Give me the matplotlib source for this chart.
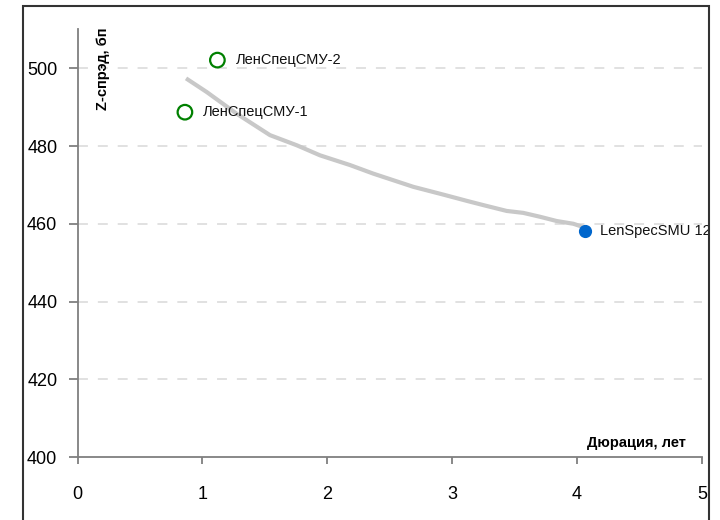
import matplotlib
matplotlib.use("Agg")
import matplotlib.pyplot as plt
from matplotlib.patches import Rectangle

plt.rcParams['font.family'] = ['Liberation Sans', 'DejaVu Sans']

# G-curve (Z-spread vs duration)
curve_dur = [0.869, 1.034, 1.275, 1.541, 1.755, 1.942, 2.182, 2.368, 2.689,
             2.929, 3.116, 3.249, 3.436, 3.569, 3.703, 3.837, 3.970, 4.063]
curve_z = [497.4, 493.9, 488.3, 482.8, 480.2, 477.6, 475.1, 472.9, 469.5,
           467.5, 465.9, 464.8, 463.3, 462.8, 461.8, 460.7, 460.0, 459.0]

# Old bonds (open green markers)
old_names = ["ЛенСпецСМУ-1", "ЛенСпецСМУ-2"]
old_dur = [0.86, 1.12]
old_z = [488.7, 502.1]

# New bond (filled blue)
new_names = ["LenSpecSMU 12"]
new_dur = [4.06]
new_z = [458.1]

xticks = [0, 1, 2, 3, 4, 5]
yticks = [400, 420, 440, 460, 480, 500]

fig = plt.figure(figsize=(7.2, 5.2), dpi=100)
ax = fig.add_axes([77.5/720, 1-457/520, (702-77.5)/720, (457-29.4)/520])

ax.set_xlim(0, 5)
ax.set_ylim(400, 510)

for y in yticks[1:]:
    ax.axhline(y, color='#d9d9d9', lw=1.1, linestyle=(0, (6.5, 6.5)), zorder=0)

ax.plot(curve_dur, curve_z, color='#c8c8c8', lw=3, solid_capstyle='butt', zorder=2)

ax.scatter(old_dur, old_z, s=110, facecolors='none', edgecolors='#008000',
           linewidths=1.6, zorder=3)
ax.scatter(new_dur, new_z, s=72, color='#0066cc', zorder=3)

for n, x, y in zip(old_names, old_dur, old_z):
    ax.annotate(n, (x, y), xytext=(13, 0), textcoords='offset points',
                va='center', ha='left', fontsize=10.5, color='#111111')
for n, x, y in zip(new_names, new_dur, new_z):
    ax.annotate(n, (x, y), xytext=(11, 0), textcoords='offset points',
                va='center', ha='left', fontsize=10.5, color='#111111')

for s in ['top', 'right']:
    ax.spines[s].set_visible(False)
for s in ['left', 'bottom']:
    ax.spines[s].set_color('#7f7f7f')
    ax.spines[s].set_linewidth(1.3)

ax.set_xticks(xticks)
ax.set_yticks(yticks)
ax.tick_params(axis='x', direction='out', length=5, width=1.3, color='#7f7f7f',
               pad=16, labelsize=13)
ax.tick_params(axis='y', direction='out', length=6.5, width=1.3, color='#7f7f7f',
               pad=8, labelsize=13)

fig.text(103/720, 1-28/520, 'Z-спрэд, бп', rotation=90, ha='center', va='top',
         fontsize=10.5, fontweight='bold')
fig.text(686/720, 1-443/520, 'Дюрация, лет', ha='right', va='center',
         fontsize=10.5, fontweight='bold')

fig.add_artist(Rectangle((23/720, -0.1), (709-23)/720, 1.1-6/520,
                         transform=fig.transFigure, fill=False,
                         ec='#333333', lw=1.5, clip_on=False, zorder=10))

fig.savefig('out.png', dpi=100, facecolor='white')
